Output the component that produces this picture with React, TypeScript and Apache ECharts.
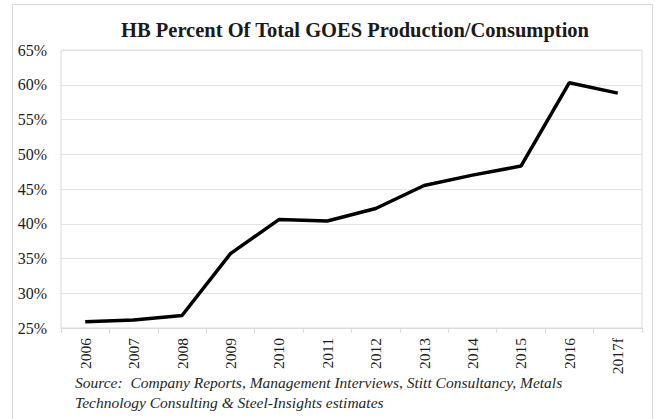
import React, { useEffect, useRef } from "react";
import * as echarts from "echarts";

const years = ["2006", "2007", "2008", "2009", "2010", "2011", "2012", "2013", "2014", "2015", "2016", "2017f"];
const hbPercent = [25.9, 26.15, 26.8, 35.7, 40.6, 40.4, 42.2, 45.5, 47.0, 48.3, 60.3, 58.8];
const titleText = "HB Percent Of Total GOES Production/Consumption";
const sourceLines = [
  "Source:  Company Reports, Management Interviews, Stitt Consultancy, Metals",
  "Technology Consulting & Steel-Insights estimates",
];

const SERIF = "'Liberation Serif', 'DejaVu Serif', serif";

export default function App() {
  const ref = useRef<HTMLDivElement>(null);
  useEffect(() => {
    if (!ref.current) return;
    const chart = echarts.init(ref.current, null, { renderer: "svg" });
    chart.setOption({
      animation: false,
      backgroundColor: "#ffffff",
      title: {
        text: titleText,
        left: 350,
        textAlign: "center",
        top: 14,
        textStyle: { fontFamily: SERIF, fontWeight: "bold", fontSize: 20.5, color: "#1a1a1a" },
      },
      grid: { left: 61, right: 13, top: 50, bottom: 91, containLabel: false, show: true, borderColor: "#d9d9d9", borderWidth: 1 },
      xAxis: {
        type: "category",
        data: years,
        boundaryGap: true,
        axisLine: { show: true, lineStyle: { color: "#d9d9d9", width: 1 } },
        axisTick: { show: true, alignWithLabel: false, length: 5, lineStyle: { color: "#d9d9d9" } },
        axisLabel: { rotate: 90, fontFamily: SERIF, fontSize: 15.5, color: "#1a1a1a", margin: 10 },
      },
      yAxis: {
        type: "value",
        min: 25,
        max: 65,
        interval: 5,
        axisLine: { show: false },
        axisTick: { show: false },
        splitLine: { show: true, lineStyle: { color: "#e3e3e3", width: 1 } },
        axisLabel: { formatter: "{value}%", fontFamily: SERIF, fontSize: 16, color: "#1a1a1a", margin: 14 },
      },
      series: [
        {
          type: "line",
          data: hbPercent,
          symbol: "none",
          lineStyle: { color: "#000000", width: 3.5 },
        },
      ],
      graphic: [
        {
          type: "rect",
          shape: { x: 12.5, y: 4.5, width: 640, height: 420 },
          style: { fill: "none", stroke: "#d9d9d9", lineWidth: 1 },
          silent: true,
        },
        {
          type: "text",
          left: 75,
          top: 374,
          style: { text: sourceLines[0], font: `italic 15.5px ${SERIF}`, fill: "#262626" },
        },
        {
          type: "text",
          left: 75,
          top: 394,
          style: { text: sourceLines[1], font: `italic 15.5px ${SERIF}`, fill: "#262626" },
        },
      ],
    });
    return () => chart.dispose();
  }, []);
  return <div ref={ref} style={{ position: "fixed", left: 0, top: 0, width: 655, height: 419 }} />;
}
